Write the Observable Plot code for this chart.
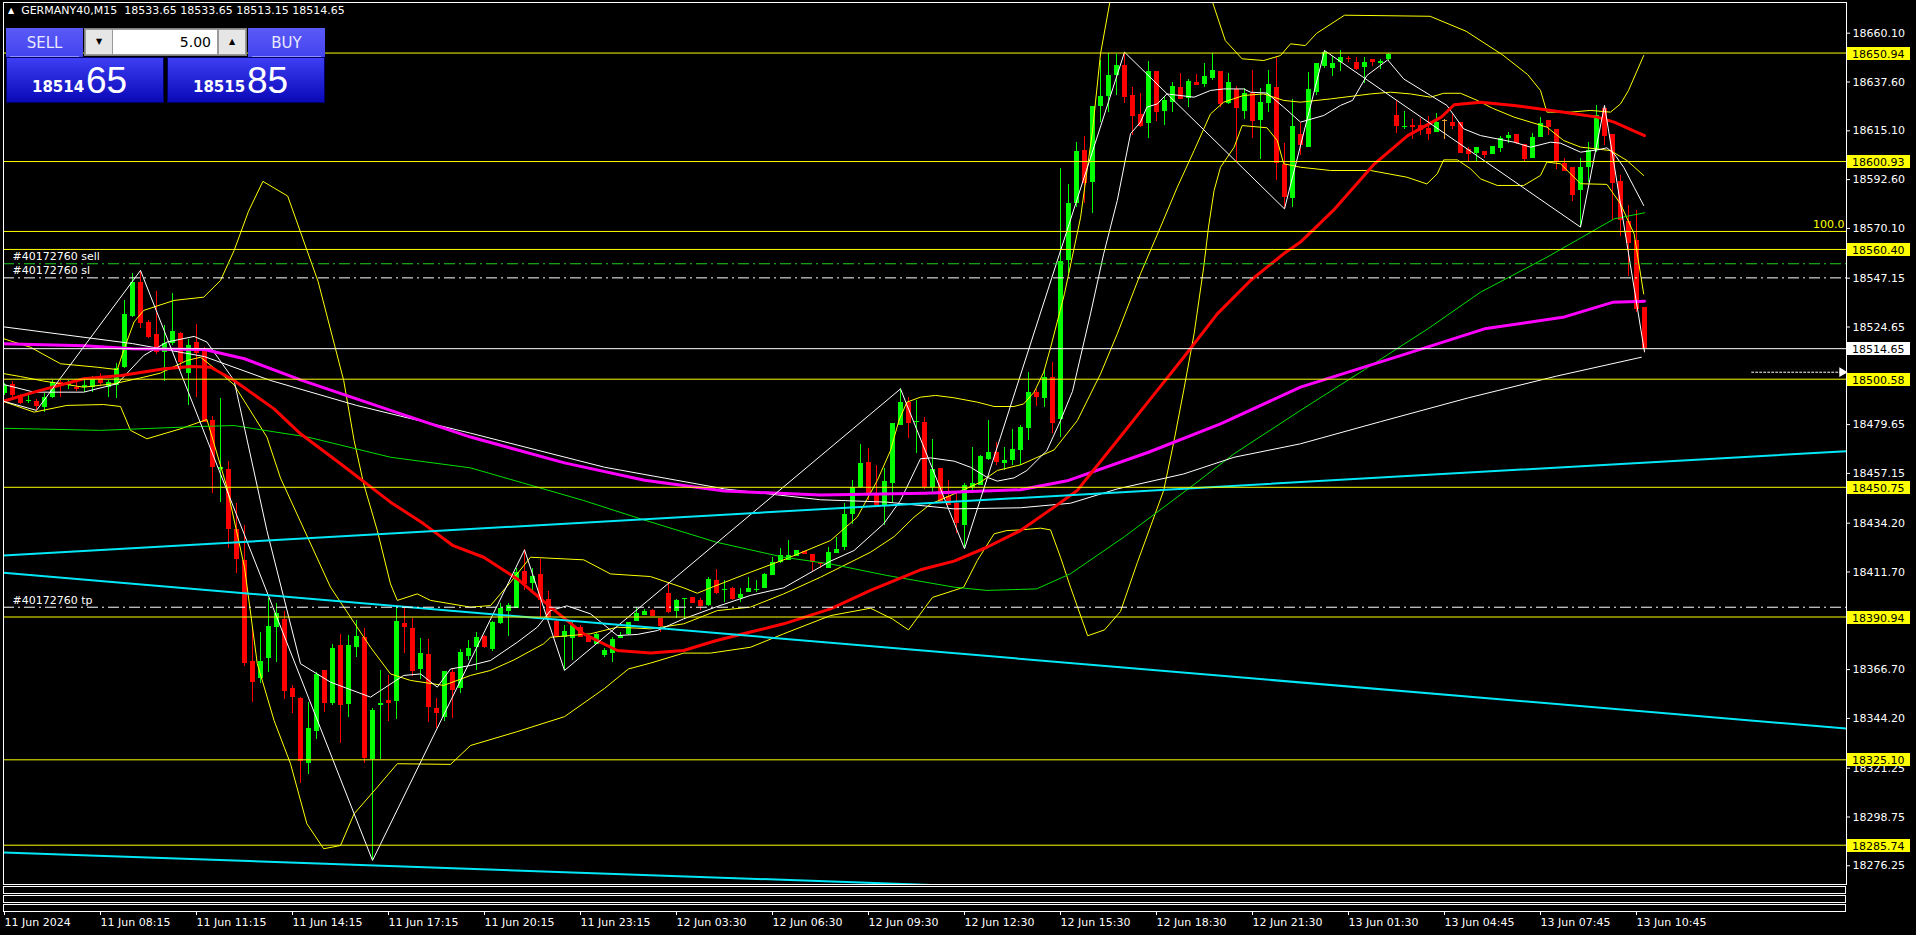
<!DOCTYPE html>
<html><head><meta charset="utf-8">
<script src="https://cdn.jsdelivr.net/npm/d3@7"></script>
<script src="https://cdn.jsdelivr.net/npm/@observablehq/plot@0.6"></script>
<style>
html,body{margin:0;padding:0;background:#000;overflow:hidden;}
#wrap{position:relative;width:1916px;height:935px;}
.ov{position:absolute;font-family:"DejaVu Sans",sans-serif;white-space:nowrap;}
#hdr{left:8px;top:4px;color:#fff;font-size:11px;line-height:14px;}
.btn{position:absolute;top:28px;width:77px;height:29px;background:linear-gradient(#5a5af7,#4444ef);color:#e8e8ff;font-size:15px;text-align:center;}
.btn span{position:absolute;left:0;right:0;top:8px;line-height:15px;}
.btn i{position:absolute;left:4px;right:4px;bottom:0;height:1px;background:#9090ff;}
.px{position:absolute;top:57px;width:158px;height:46px;background:linear-gradient(#3e3ef3,#0909b8);box-sizing:border-box;border:1px solid #00006a;}
.px .s{position:absolute;font-family:"DejaVu Sans",sans-serif;font-weight:bold;font-size:15px;line-height:15px;color:#fff;}
.px .b{position:absolute;font-family:"Liberation Sans",sans-serif;font-size:37px;line-height:37px;color:#fff;}
#lot{position:absolute;left:84px;top:28px;width:163px;height:28px;background:#9a9a9a;box-sizing:border-box;border:1px solid #808080;}
#lot .a{position:absolute;top:1px;width:26px;height:24px;background:#e6e6e6;font-size:8px;line-height:24px;text-align:center;color:#000;}
#lot .m{position:absolute;left:28px;top:1px;width:104px;height:24px;background:#fff;}
#lot .m span{position:absolute;right:6px;top:5px;font-size:14px;line-height:14px;color:#000;font-family:"DejaVu Sans",sans-serif;}
</style></head>
<body><div id="wrap"></div>
<script>
// ---------- candle data (15-minute bars, index 0 = first bar on screen) ----------
const openP = [18493.8,18498.2,18493.1,18490.3,18490.5,18487.7,18492.3,18499.0,18497.7,18496.9,18496.9,18496.9,18500.8,18496.9,18497.7,18506.1,18529.5,18545.3,18526.9,18521.2,
18513.1,18517.2,18521.5,18503.4,18517.7,18513.8,18481.5,18458.8,18458.8,18431.1,18417.0,18370.4,18362.4,18371.7,18386.3,18389.6,18357.8,18353.2,18323.3,18338.3,
18366.3,18351.2,18377.8,18350.4,18376.7,18381.3,18325.1,18350.1,18352.4,18352.1,18388.1,18385.5,18366.6,18373.7,18348.6,18344.8,18365.3,18357.8,18372.7,18377.0,
18382.0,18376.0,18388.1,18393.5,18395.0,18412.1,18406.2,18410.5,18399.0,18389.0,18381.3,18380.9,18386.25,18381.6,18378.3,18373.2,18374.3,18381.2,18382.9,18389.0,
18391.6,18393.9,18390.1,18401.6,18393.5,18398.9,18399.8,18398.5,18396.2,18407.8,18403.0,18403.9,18399.3,18402.4,18403.0,18403.9,18410.1,18415.9,18417.0,18418.8,
18421.3,18419.7,18416.2,18413.5,18420.1,18422.8,18438.2,18450.8,18462.0,18447.7,18442.3,18452.6,18479.2,18490.0,18480.5,18480.5,18450.5,18459.6,18446.7,18443.1,
18433.1,18450.8,18451.6,18463.6,18466.8,18461.9,18463.1,18467.7,18478.0,18494.4,18491.8,18501.5,18481.8,18555.3,18581.7,18606.0,18591.4,18626.3,18630.9,18640.6,
18645.2,18631.4,18622.6,18618.3,18642.4,18624.0,18628.3,18635.2,18630.1,18637.5,18636.4,18639.4,18642.4,18627.8,18634.0,18624.2,18632.1,18619.8,18627.5,18634.9,
18599.6,18583.7,18613.4,18607.55,18632.9,18644.7,18644.0,18646.7,18648.6,18646.7,18644.1,18647.8,18646.3,18647.8,18622.15,18616.5,18617.4,18617.5,18616.3,18614.5,
18619.5,18619.1,18619.1,18606.3,18604.8,18605.6,18604.2,18606.8,18611.4,18613.4,18608.8,18602.2,18612.2,18619.85,18615.55,18600.2,18598.0,18587.6,18598.3,18606.0,
18625.2,18613.4,18591.9,18573.4,18564.5,18533.65];
const highP = [18498.5,18499.3,18493.5,18493.1,18491.1,18493.8,18500.0,18500.0,18500.0,18500.0,18500.0,18501.8,18503.4,18500.0,18507.7,18536.9,18549.2,18550.7,18527.7,18541.2,
18525.3,18539.9,18522.3,18518.7,18525.8,18515.3,18483.6,18491.5,18462.6,18443.1,18433.1,18385.9,18384.0,18399.3,18397.3,18393.6,18359.4,18354.0,18351.7,18365.5,
18366.3,18378.1,18382.9,18382.4,18389.3,18385.5,18348.9,18366.3,18364.0,18394.7,18395.0,18390.1,18380.9,18380.4,18353.2,18366.0,18366.6,18375.8,18380.1,18384.0,
18382.4,18389.0,18397.3,18397.0,18413.1,18421.9,18413.1,18417.3,18402.8,18389.3,18387.0,18388.6,18387.0,18381.6,18383.5,18376.3,18381.6,18384.0,18388.6,18395.2,
18394.2,18394.2,18390.1,18407.0,18398.9,18399.0,18399.8,18399.3,18409.3,18412.7,18407.8,18404.7,18403.9,18409.0,18407.8,18411.0,18418.2,18422.4,18426.2,18421.6,
18421.3,18419.7,18416.2,18423.1,18427.8,18443.4,18453.9,18470.5,18468.5,18460.8,18459.3,18480.0,18496.1,18492.0,18490.8,18483.1,18472.6,18459.6,18453.9,18447.7,
18452.3,18468.9,18465.4,18481.5,18471.6,18469.2,18477.2,18479.2,18503.8,18495.7,18504.6,18508.4,18597.6,18590.3,18609.9,18612.5,18626.3,18647.5,18650.6,18650.3,
18651.35,18634.9,18632.1,18647.05,18642.4,18630.9,18637.5,18641.4,18638.6,18640.9,18646.0,18650.9,18642.4,18641.4,18635.5,18634.4,18642.9,18634.4,18642.9,18649.05,
18609.4,18629.4,18618.3,18642.1,18646.3,18652.1,18649.35,18652.1,18649.35,18649.05,18649.05,18647.8,18647.8,18650.9,18629.1,18624.1,18620.2,18620.6,18621.7,18622.9,
18620.2,18622.6,18619.1,18607.55,18607.25,18605.6,18607.9,18612.5,18614.5,18613.4,18608.8,18613.7,18621.1,18619.85,18615.55,18602.2,18598.0,18602.2,18609.85,18626.8,
18626.0,18613.4,18594.5,18580.65,18578.35,18533.65];
const lowP = [18493.0,18492.3,18489.0,18489.3,18486.2,18485.4,18491.6,18492.3,18495.7,18495.1,18494.6,18494.6,18497.7,18492.3,18491.6,18505.4,18529.2,18523.8,18519.2,18512.0,
18499.7,18516.1,18504.6,18488.5,18492.3,18480.8,18448.0,18443.9,18422.4,18411.2,18368.1,18351.7,18360.1,18365.5,18370.1,18352.8,18346.3,18314.0,18318.2,18334.3,
18347.1,18350.1,18332.5,18344.8,18372.1,18323.6,18278.7,18325.1,18342.9,18343.5,18374.0,18363.5,18362.0,18342.5,18339.4,18342.9,18344.0,18355.5,18370.9,18366.3,
18376.5,18375.0,18387.5,18381.9,18394.8,18403.2,18402.8,18390.6,18389.3,18381.3,18366.3,18370.9,18381.3,18379.0,18378.3,18372.4,18370.1,18380.9,18382.4,18389.0,
18391.6,18391.0,18384.0,18392.4,18390.1,18389.6,18397.3,18393.9,18395.8,18401.3,18397.8,18398.5,18397.8,18402.4,18402.4,18403.9,18410.1,18415.4,18417.0,18418.8,
18419.6,18411.6,18413.1,18413.1,18420.1,18421.6,18433.6,18450.0,18444.7,18442.3,18433.1,18443.1,18479.2,18473.1,18466.5,18449.6,18448.5,18443.9,18442.3,18429.3,
18422.4,18448.5,18451.6,18463.1,18460.8,18458.5,18460.8,18460.8,18472.3,18488.0,18487.7,18475.7,18473.5,18549.2,18579.9,18581.4,18577.1,18619.1,18623.7,18631.4,
18627.8,18612.9,18616.8,18611.7,18619.5,18617.5,18623.7,18629.7,18626.0,18636.0,18635.2,18638.3,18626.0,18627.2,18600.6,18620.2,18611.4,18601.7,18623.7,18592.2,
18579.1,18579.9,18603.7,18607.55,18631.4,18643.7,18640.1,18642.6,18646.7,18642.9,18636.8,18644.7,18643.2,18647.2,18613.7,18615.5,18610.9,18612.9,18610.6,18614.5,
18611.2,18615.5,18604.8,18601.1,18601.1,18602.2,18604.2,18605.25,18609.4,18608.8,18600.7,18602.2,18611.9,18612.9,18597.1,18596.5,18582.65,18570.7,18591.4,18605.25,
18608.3,18573.75,18566.5,18547.9,18531.5,18513.15];
const closeP = [18497.7,18493.1,18489.3,18490.6,18488.0,18492.3,18499.2,18497.8,18499.2,18495.7,18497.7,18500.8,18498.5,18499.1,18505.4,18530.4,18545.3,18526.4,18520.0,18513.1,
18516.9,18522.7,18508.5,18516.1,18512.3,18480.8,18459.7,18459.7,18431.1,18417.3,18369.7,18360.9,18370.6,18386.6,18392.4,18356.8,18354.0,18324.3,18339.4,18364.3,
18350.9,18376.3,18350.1,18377.8,18382.0,18325.9,18347.8,18351.2,18351.2,18389.0,18386.0,18366.0,18374.3,18349.4,18346.3,18365.8,18357.1,18374.7,18376.3,18381.6,
18377.0,18388.6,18394.7,18396.2,18411.6,18406.0,18409.8,18398.5,18390.9,18381.6,18384.3,18387.0,18381.6,18379.3,18382.7,18375.5,18380.4,18382.4,18388.2,18392.7,
18393.5,18391.2,18386.6,18393.2,18398.5,18399.0,18397.3,18395.8,18408.1,18401.9,18403.2,18398.9,18401.2,18403.9,18403.2,18410.5,18415.9,18419.3,18419.3,18421.6,
18419.6,18416.2,18415.0,18420.8,18422.1,18438.2,18450.8,18461.6,18447.7,18442.3,18453.4,18480.0,18489.7,18480.0,18481.1,18450.5,18458.9,18443.9,18442.3,18433.9,
18451.6,18452.3,18464.9,18466.8,18462.3,18463.1,18468.0,18478.2,18494.4,18492.3,18501.5,18480.0,18555.0,18581.7,18605.6,18591.0,18626.3,18630.9,18640.6,18645.2,
18630.6,18621.7,18617.1,18642.4,18623.7,18629.1,18635.5,18629.7,18637.8,18636.0,18640.1,18642.9,18627.2,18637.4,18625.2,18632.1,18619.4,18628.3,18636.4,18599.9,
18584.5,18617.1,18608.3,18634.0,18646.0,18651.35,18646.0,18648.7,18647.8,18643.2,18646.7,18646.7,18647.2,18650.3,18617.1,18617.1,18616.5,18615.2,18613.4,18619.1,
18619.5,18617.1,18604.8,18604.2,18607.25,18603.7,18607.9,18611.4,18612.9,18609.4,18601.7,18612.2,18618.6,18616.5,18600.95,18596.5,18585.3,18598.0,18606.0,18622.15,
18612.5,18591.0,18573.75,18563.3,18532.6,18514.65];

// ---------- axis labels ----------
const timeTickIdx = [0,12,24,36,48,60,72,84,96,108,120,132,144,156,168,180,192,204];
const timeLabels = ["11 Jun 2024","11 Jun 08:15","11 Jun 11:15","11 Jun 14:15","11 Jun 17:15","11 Jun 20:15","11 Jun 23:15","12 Jun 03:30","12 Jun 06:30","12 Jun 09:30","12 Jun 12:30","12 Jun 15:30","12 Jun 18:30","12 Jun 21:30","13 Jun 01:30","13 Jun 04:45","13 Jun 07:45","13 Jun 10:45"];
const priceTicks = [18660.10,18637.60,18615.10,18592.60,18570.10,18547.15,18524.65,18502.15,18479.65,18457.15,18434.20,18411.70,18389.20,18366.70,18344.20,18321.25,18298.75,18276.25];
const hiddenTicks = [18502.15,18389.20]; // covered by the level boxes

// ---------- horizontal objects ----------
const levelPrices = [18650.94,18600.93,18560.40,18500.58,18450.75,18390.94,18325.10,18285.74];
const bidPrice = 18514.65;
const fibPrice = 18568.7;
const fibLabel = "100.0";
const orderPrices = [18553.8,18547.3,18395.45];
const orderLabels = ["#40172760 sell","#40172760 sl","#40172760 tp"];
const orderColors = ["#1fd21f","#ffffff","#ffffff"];
const shiftLine = [[218.4,18503.8],[229.45,18503.8]];

// ---------- trend lines [barIndex, price] ----------
const cyanUp = [[-0.125,18419.3],[230.25,18467.4]];
const cyanMid = [[-0.125,18411.3],[230.25,18339.5]];
const cyanLow = [[-0.125,18282.4],[125,18266.2]];
const zigzag = [[-0.5,18490.8],[4,18486.2],[17,18550.7],[46,18278.7],[65,18421.9],[70,18366.3],[112,18496.1],[120,18422.4],[140,18651.35],[160,18579.1],[165,18652.1],[197,18570.7],[200,18626.8],[205,18513.15]];

// ---------- indicators [barIndex, price] ----------
const maRed = [[-0.5,18490],[3.7,18494.6],[9.9,18500.8],[14.6,18502.3],[20,18505.4],[23.3,18506.4],[25.8,18506.1],[28.7,18500],[33.7,18486.9],[37,18475.4],[42,18461.6],[48.25,18443.9],[52.4,18433.9],[56,18424],[59.9,18418.5],[64.1,18408.5],[68.25,18395.5],[72.4,18383.2],[76.6,18375.5],[80.75,18374.4],[84.9,18375.5],[89,18380.1],[93.25,18384],[97.4,18387.8],[103.25,18394.7],[108.25,18403.2],[114.5,18412.7],[118.7,18416.7],[122.8,18423.1],[127,18430.8],[131.2,18441.6],[134.1,18449.3],[139.1,18472.3],[143.25,18491.5],[147.4,18510.7],[151.6,18530.7],[155.75,18546.1],[159.9,18558.4],[162,18563.8],[166.1,18578.4],[171.25,18599.9],[175.4,18612.9],[179.6,18621.4],[181.2,18627.1],[184.5,18628.3],[188.7,18626.8],[194.9,18623.7],[199.1,18621.4],[201.2,18619.1],[205,18612.9]];
const maMagenta = [[-0.5,18517],[10,18516],[16,18514.6],[25,18514.3],[30,18510],[37,18500.3],[48.25,18486.2],[58.25,18473.9],[70,18462],[80,18454],[90,18449],[102,18447.2],[115,18448],[127,18449.6],[133,18453.9],[143,18466.9],[152,18480],[162,18496.9],[175,18512],[185,18523.8],[195,18529.3],[201,18536],[205,18536.5]];
const maGreen = [[-0.5,18478],[12,18477],[24.5,18478.8],[28.7,18479.2],[37.9,18473.9],[48.25,18464.6],[58.25,18459.7],[72.4,18444.65],[79.5,18436.2],[89,18425.4],[97.4,18418.5],[103.25,18415.4],[110.3,18410.1],[118.7,18404.7],[122.8,18403.2],[129,18403.9],[133.25,18410.9],[140,18428],[148.25,18450.8],[153.7,18466.2],[162,18486.2],[170,18505],[178,18524],[184.5,18540.7],[192.8,18556.8],[201.2,18574.5],[205,18577.3]];
const maWhiteSlow = [[-0.5,18524.9],[16,18517],[25,18511],[33.25,18500],[44,18488.5],[58.25,18475.7],[75,18460],[90,18450],[102,18445],[110.3,18443.9],[118.7,18440.8],[127,18441.3],[133.25,18443.4],[139.1,18450],[147.4,18456.9],[153.7,18464.6],[162,18470.8],[172,18481],[183,18492],[194,18502],[204.6,18510.7]];
const maWhiteFast = [[-0.5,18498.5],[3.7,18494.6],[9.9,18494.6],[14.1,18498.5],[17.4,18511.5],[20.3,18517.7],[23.7,18520.3],[25.3,18517.7],[28.7,18500],[32.8,18430.8],[37,18369.4],[40.75,18360.9],[45.75,18354],[49.9,18364],[52,18364.7],[54.1,18358.6],[55.75,18367],[58.25,18368.6],[60.75,18370.9],[64.1,18379.3],[66.6,18386.25],[68.25,18393.9],[70.3,18396.1],[73.25,18392.4],[76.6,18382.4],[79.1,18382.9],[81.6,18384.7],[84.9,18390.1],[89.1,18395.8],[93.25,18400.9],[97.4,18404.4],[103.25,18416.7],[106.2,18421.6],[109.9,18433.9],[112,18444.7],[114.5,18463.9],[115.75,18464.3],[118.7,18462.8],[120.75,18460],[122.8,18455.4],[124.1,18453.6],[126.2,18455.1],[127.8,18458.5],[130.3,18467.7],[132,18481.5],[133.5,18495],[135.75,18530.7],[137.4,18558.4],[139.1,18583],[140.75,18613.7],[142,18619.1],[142.8,18626],[144.1,18627.5],[145.3,18632.1],[148.7,18630.6],[150.75,18633.7],[152.4,18634.4],[154.9,18634.4],[155.75,18632.9],[157.8,18632.5],[159.9,18626],[162,18619.1],[164.9,18622.15],[167,18626.8],[168.5,18629.1],[170.3,18640.6],[172.9,18647.8],[174.9,18639],[178.25,18631.4],[180.3,18626.8],[182.4,18616],[184.5,18612.9],[188.7,18609.85],[190.75,18607.55],[193.25,18609.85],[194.5,18609.4],[197,18605.25],[199.1,18606.3],[200.3,18607.25],[201.2,18604.5],[202.4,18598.3],[203.7,18589.1],[204.9,18580.65]];
const bbUpper = [[-0.5,18519.7],[3.25,18515.3],[7,18507.7],[11.6,18506.1],[14.1,18505],[15,18515],[16.2,18527],[17.4,18532.3],[21.2,18536.9],[24.9,18538.4],[27,18546.1],[28.7,18559.9],[30.5,18578],[32.3,18591.8],[35.4,18585],[39.2,18545.6],[42.4,18500],[43.7,18472.3],[44.9,18452.3],[46.6,18430.8],[48.25,18406.2],[49.1,18398.6],[51.6,18401.6],[53.25,18398.6],[58.25,18395.5],[60.75,18396.2],[63.25,18407],[65.75,18418.5],[72.4,18417.3],[75.75,18410.8],[80.75,18409.6],[84.9,18404.4],[86.6,18401.9],[88.25,18404.4],[93.25,18411.6],[97.4,18417.3],[103.25,18426.2],[106.6,18437],[109.1,18453.9],[110.75,18467.7],[111.8,18481.5],[112.8,18490],[114.5,18492.3],[116.4,18493.1],[118.7,18492],[121.6,18490],[123.7,18488],[126.2,18488],[127.4,18489.2],[128.7,18494.6],[129.9,18503.8],[130.75,18515],[132.5,18540],[134.5,18575],[136,18615],[137,18650.6],[138.2,18675],[141,18700],[146,18705],[150.5,18680],[152.6,18656.7],[154.7,18648.3],[157.4,18647.5],[159.5,18649.8],[160.75,18655.2],[162.6,18654.4],[164,18660],[167.5,18668.4],[178.2,18667.9],[182.7,18661],[187.3,18650],[190.4,18641],[192,18633.7],[192.8,18623.7],[195.75,18623.7],[198.25,18624.5],[200.75,18623.7],[202,18627.5],[203,18633.7],[204.9,18649.8]];
const bbMiddle = [[-0.5,18503.4],[2,18501.8],[4.9,18499.7],[9.9,18496.9],[13.7,18498.5],[17.4,18501.5],[19.5,18503.4],[22.8,18509.2],[24.5,18510.7],[26.6,18504.6],[28.7,18498],[32.8,18473.9],[34.5,18455],[40.75,18404.7],[45.75,18377],[48.25,18364.7],[50.75,18361.7],[54.9,18359.4],[58.25,18364],[60.75,18366.3],[63.7,18371.2],[67.4,18378.6],[68.25,18381.6],[73.25,18383.2],[76.6,18386.25],[80.75,18385.5],[84.9,18387.8],[89.1,18393.9],[93.25,18395.5],[97.4,18401.6],[102,18409.3],[108.25,18420.8],[111.2,18428],[113.7,18437],[115.75,18443],[119.9,18449.6],[122,18453.1],[124.1,18458.5],[127,18461.1],[131.2,18468],[134.1,18481.5],[137,18503],[139.1,18521.5],[142,18549.2],[144.5,18570.7],[146.6,18589.1],[148.7,18606],[150.75,18622.9],[152.4,18628.3],[154.9,18631.4],[157.4,18632.1],[159.9,18629.1],[162,18628.3],[165.75,18629.8],[170.75,18632.1],[173.25,18632.9],[175.75,18632.1],[178.25,18630.6],[179.9,18632.4],[182,18632.4],[184.1,18629.1],[186,18625.5],[188.7,18621.4],[192.8,18616.8],[194.9,18610.6],[197,18607.6],[200.75,18606],[202.8,18601.4],[204.9,18594.5]];
const bbLower = [[-0.5,18490.8],[3.7,18485.4],[7.8,18488.5],[12.4,18488.9],[14.5,18488],[15.75,18477],[17.8,18473.1],[22,18477.7],[25.3,18482],[27.8,18450.8],[30,18413.9],[31.6,18369.4],[33.7,18343.2],[35.75,18323.3],[37.8,18295.6],[39.9,18284.1],[42,18285.6],[43.7,18300.2],[46.6,18312.5],[49.1,18323.3],[55.75,18323],[58.25,18331.7],[64,18338],[70,18345],[75,18358],[78,18367],[80.75,18369.7],[84.9,18374.3],[88.25,18374.3],[93.25,18377],[97.4,18383.2],[103.25,18391.6],[108.25,18395],[111,18390],[113,18385],[116,18400],[118.7,18403.2],[119.9,18404.7],[121.6,18417],[123.7,18429.3],[125.3,18430.8],[127,18431.1],[129.5,18431.9],[130.75,18431.1],[132,18418.5],[133.25,18404.7],[135.4,18382.3],[137.5,18385],[139.5,18393.5],[141.6,18416],[144.9,18449.3],[146.2,18472.3],[147.4,18495.4],[148.7,18521.5],[149.9,18552.2],[150.5,18570.7],[151.2,18587.6],[152,18598.3],[153.7,18607.5],[154.7,18617.5],[157.8,18616.5],[159.1,18610.6],[159.9,18599.9],[162,18598.3],[165.75,18596.8],[170.75,18596.8],[175.3,18593.7],[177.8,18590.6],[179.1,18595.3],[179.9,18601.7],[181.6,18601.7],[183.25,18597.6],[184.5,18592.95],[186.6,18589.9],[189.9,18589.9],[192,18594.5],[192.8,18600.7],[194.5,18599.9],[197,18590.7],[200.3,18590.4],[202,18581.4],[203.7,18567.6],[204.9,18539.9]];

// ---------- build ----------
const candles = openP.map((o, i) => ({i, o, h: highP[i], l: lowP[i], c: closeP[i]}));
const colorOf = d => d.c > d.o ? "#00ff00" : d.c < d.o ? "#ff0000" : "#f0a030";
const pts = a => a.map(([i, p]) => ({i, p}));
const ln = (arr, stroke, w, extra = {}) => Plot.line(pts(arr), {x: "i", y: "p", stroke, strokeWidth: w, clip: true, ...extra});
const labelOf = new Map(timeTickIdx.map((d, k) => [d, timeLabels[k]]));
const FONT = "DejaVu Sans, sans-serif";

const chart = Plot.plot({
  width: 1916, height: 935,
  marginLeft: 3, marginRight: 70, marginTop: 2, marginBottom: 51,
  style: {background: "#000", color: "#fff", fontFamily: FONT, fontSize: "11px"},
  x: {domain: [-0.125, 230.25], label: null},
  y: {domain: [18267.62, 18674.25], label: null},
  marks: [
    // candles
    Plot.ruleX(candles, {x: "i", y1: "l", y2: "h", stroke: colorOf, strokeWidth: 1, clip: true, shapeRendering: "crispEdges"}),
    Plot.rect(candles, {
      x1: d => d.i - 0.25, x2: d => d.i + 0.375,
      y1: d => Math.min(d.o, d.c),
      y2: d => Math.max(Math.max(d.o, d.c), Math.min(d.o, d.c) + 0.46),
      fill: colorOf, clip: true, shapeRendering: "crispEdges"
    }),
    // Bollinger bands
    ln(bbUpper, "#ffff00", 1), ln(bbMiddle, "#ffff00", 1), ln(bbLower, "#ffff00", 1),
    // moving averages
    ln(maGreen, "#00e000", 1),
    ln(maWhiteSlow, "#ffffff", 1),
    ln(maWhiteFast, "#ffffff", 1),
    ln(maMagenta, "#ff00ff", 3),
    ln(maRed, "#ff0000", 3),
    // zigzag
    ln(zigzag, "#ffffff", 1),
    // trend lines
    ln(cyanUp, "#00e8f8", 2), ln(cyanMid, "#00e8f8", 2), ln(cyanLow, "#00e8f8", 2),
    // horizontal levels
    Plot.ruleY(levelPrices, {stroke: "#ffff00", strokeWidth: 1}),
    Plot.ruleY([fibPrice], {stroke: "#ffff00", strokeWidth: 1}),
    Plot.text([fibPrice], {y: d => d, text: () => fibLabel, frameAnchor: "right", textAnchor: "end", dx: -2, dy: -7, fill: "#ffff00", fontSize: 11}),
    Plot.ruleY(orderPrices, {stroke: (d, k) => orderColors[k], strokeWidth: 1, strokeDasharray: "11,4,2,4"}),
    Plot.text(orderPrices, {y: d => d, text: (d, k) => orderLabels[k], frameAnchor: "left", textAnchor: "start", dx: 9, dy: -7, fill: "#fff", fontSize: 11}),
    Plot.ruleY([bidPrice], {stroke: "#ffffff", strokeWidth: 1}),
    ln(shiftLine, "#ffffff", 1, {strokeDasharray: "2,2"}),
    Plot.dot([shiftLine[1]], {x: d => d[0] + 0.25, y: d => d[1], symbol: "triangle", rotate: 90, r: 3.6, fill: "#fff", stroke: null}),
    // axes
    Plot.axisY({anchor: "right", label: null, ticks: priceTicks, tickFormat: d => hiddenTicks.includes(d) ? "" : d.toFixed(2), tickSize: 3, tickPadding: 3, fontSize: 11}),
    Plot.axisX({anchor: "bottom", label: null, ticks: timeTickIdx, tickFormat: d => labelOf.get(d), tickSize: 4, tickPadding: 3, dy: 27, textAnchor: "start", fontSize: 11}),
    Plot.frame({stroke: "#fff"})
  ]
});

document.getElementById("wrap").appendChild(chart);

// price labels on the right axis, positioned through the plot's y scale
const ys = chart.scale("y"), xs = chart.scale("x");
const svg = d3.select(chart);
const right = xs.range[1];
const g = svg.append("g").attr("font-family", FONT).attr("font-size", 11).attr("text-anchor", "start");
const boxes = levelPrices.map(p => ({p, bg: "#ffff00"})).concat([{p: bidPrice, bg: "#ffffff"}]);
for (const b of boxes) {
  const y = Math.round(ys.apply(b.p));
  g.append("rect").attr("x", right + 1).attr("y", y - 6).attr("width", 63).attr("height", 13).attr("fill", b.bg);
  g.append("text").attr("x", right + 6).attr("y", y + 4.5).attr("fill", "#000").attr("text-anchor", "start").text(b.p.toFixed(2));
}
// the three empty indicator sub-windows under the main chart
const left = xs.range[0];
const bottom = ys.range[0];
[2, 11, 20].forEach(off => {
  svg.append("rect").attr("x", left + 0.5).attr("y", bottom + off + 0.5).attr("width", right - left - 1).attr("height", 7)
     .attr("fill", "none").attr("stroke", "#fff").attr("stroke-width", 1);
});

// ---------- header + one-click trading panel ----------
const wrap = document.getElementById("wrap");
wrap.insertAdjacentHTML("beforeend", `
<div class="ov" id="hdr"><span style="font-size:8px;position:relative;top:-1px;">&#9650;</span>&nbsp; GERMANY40,M15&nbsp; 18533.65 18533.65 18513.15 18514.65</div>
<div class="px" style="left:6px;"><span class="s" style="left:25px;top:22px;">18514</span><span class="b" style="left:79px;top:4px;">65</span></div>
<div class="px" style="left:167px;"><span class="s" style="left:25px;top:22px;">18515</span><span class="b" style="left:79px;top:4px;">85</span></div>
<div class="btn ov" style="left:6px;"><span>SELL</span><i></i></div>
<div class="btn ov" style="left:248px;"><span>BUY</span><i></i></div>
<div id="lot" class="ov"><div class="a" style="left:1px;">&#9660;</div><div class="m"><span>5.00</span></div><div class="a" style="left:134px;">&#9650;</div></div>
`);
</script>
</body></html>
